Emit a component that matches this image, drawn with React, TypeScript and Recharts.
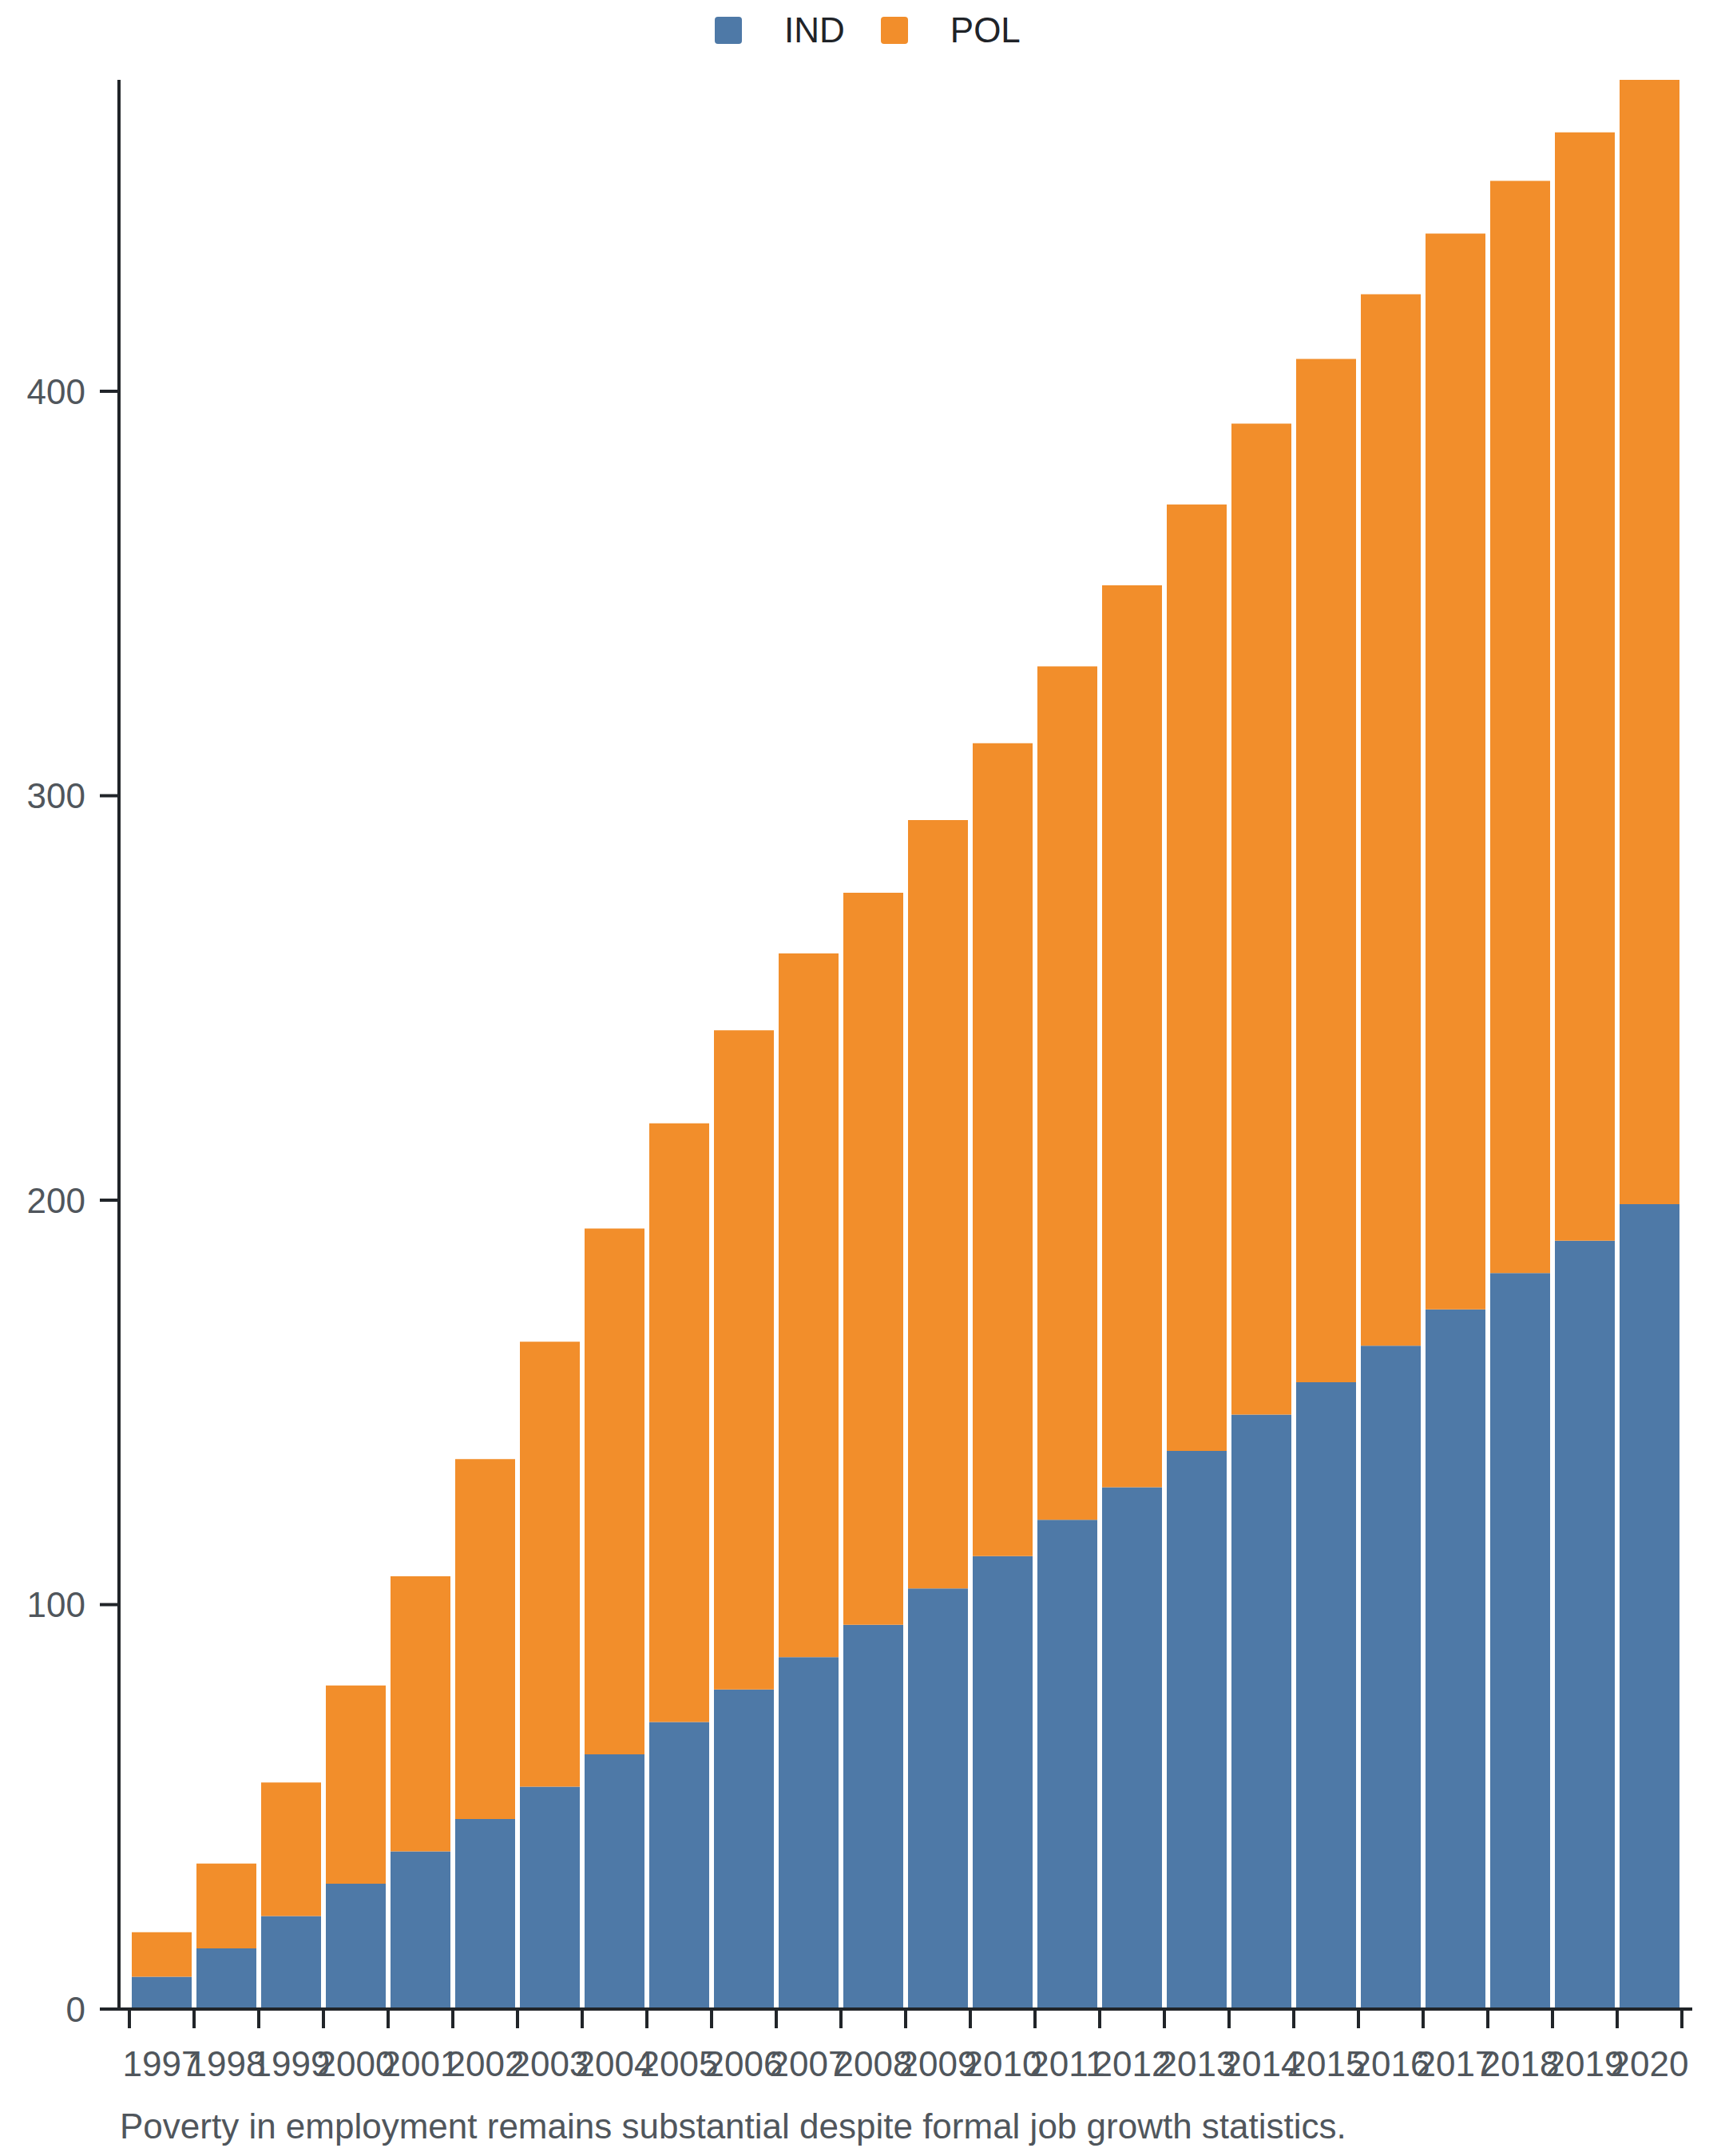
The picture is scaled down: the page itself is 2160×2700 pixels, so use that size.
import React from "react";
import { BarChart, Bar, XAxis, YAxis, Legend } from "recharts";

const YEARS = [
  "1997", "1998", "1999", "2000", "2001", "2002", "2003", "2004", "2005", "2006", "2007", "2008",
  "2009", "2010", "2011", "2012", "2013", "2014", "2015", "2016", "2017", "2018", "2019", "2020",
];
const IND = [8, 15, 23, 31, 39, 47, 55, 63, 71, 79, 87, 95, 104, 112, 121, 129, 138, 147, 155, 164, 173, 182, 190, 199];
const POL = [11, 21, 33, 49, 68, 89, 110, 130, 148, 163, 174, 181, 190, 201, 211, 223, 234, 245, 253, 260, 266, 270, 274, 278];
const Y_TICKS = [0, 100, 200, 300, 400];

const data = YEARS.map((year, i) => ({ year, IND: IND[i], POL: POL[i] }));

const W = 2144;
const H = 2620;
const MARGIN = { top: 32, right: 33, left: 0, bottom: 12 };
const Y_WIDTH = 141;
const X_PAD = 13;
const BAND = (W - MARGIN.left - MARGIN.right - Y_WIDTH - 2 * X_PAD) / YEARS.length;

const BLUE = "#4e79a7";
const ORANGE = "#f28e2b";
const AXIS = "#212529";
const TEXT = "#50565c";
const FONT = '"Liberation Sans", Arial, sans-serif';

const XTick = (props: any) => {
  const { x, y, payload, index } = props;
  const half = BAND / 2;
  return (
    <g>
      <line x1={x - half} x2={x - half} y1={y - 24} y2={y} stroke={AXIS} strokeWidth={4} />
      {index === YEARS.length - 1 && (
        <line x1={x + half} x2={x + half} y1={y - 24} y2={y} stroke={AXIS} strokeWidth={4} />
      )}
      <text x={x} y={y + 60} textAnchor="middle" fontSize={44} fill={TEXT} fontFamily={FONT}>
        {payload.value}
      </text>
    </g>
  );
};

const LegendBox = () => (
  <div
    style={{
      height: 60,
      display: "flex",
      alignItems: "center",
      fontFamily: FONT,
      fontSize: 44,
      color: "#1f2328",
    }}
  >
    {[
      { name: "IND", color: BLUE },
      { name: "POL", color: ORANGE },
    ].map((item, i) => (
      <div key={item.name} style={{ display: "flex", alignItems: "center", marginLeft: i ? 45 : 0 }}>
        <span style={{ width: 34, height: 34, borderRadius: 4, background: item.color, display: "inline-block" }} />
        <span style={{ marginLeft: 53 }}>{item.name}</span>
      </div>
    ))}
  </div>
);

export default function App() {
  return (
    <div style={{ position: "relative", width: W, height: 2690 }}>
      <BarChart width={W} height={H} data={data} margin={MARGIN} barCategoryGap={3}>
        <Legend
          verticalAlign="top"
          content={<LegendBox />}
          wrapperStyle={{ top: 0, left: 887, width: 420, height: 60 }}
        />
        <XAxis
          dataKey="year"
          padding={{ left: X_PAD, right: X_PAD }}
          height={100}
          interval={0}
          tickSize={24}
          tickMargin={0}
          tickLine={false}
          axisLine={{ stroke: AXIS, strokeWidth: 4 }}
          tick={<XTick />}
        />
        <YAxis
          width={Y_WIDTH}
          domain={[0, "dataMax"]}
          ticks={Y_TICKS}
          tickSize={24}
          tickMargin={18}
          axisLine={{ stroke: AXIS, strokeWidth: 4 }}
          tickLine={{ stroke: AXIS, strokeWidth: 4 }}
          tick={{ fontSize: 44, fill: TEXT, fontFamily: FONT }}
        />
        <Bar dataKey="IND" stackId="a" fill={BLUE} isAnimationActive={false} />
        <Bar dataKey="POL" stackId="a" fill={ORANGE} isAnimationActive={false} />
      </BarChart>
      <div
        style={{
          position: "absolute",
          left: 142,
          top: 2630,
          fontFamily: FONT,
          fontSize: 44,
          color: TEXT,
          lineHeight: "50px",
          whiteSpace: "nowrap",
        }}
      >
        Poverty in employment remains substantial despite formal job growth statistics.
      </div>
    </div>
  );
}
